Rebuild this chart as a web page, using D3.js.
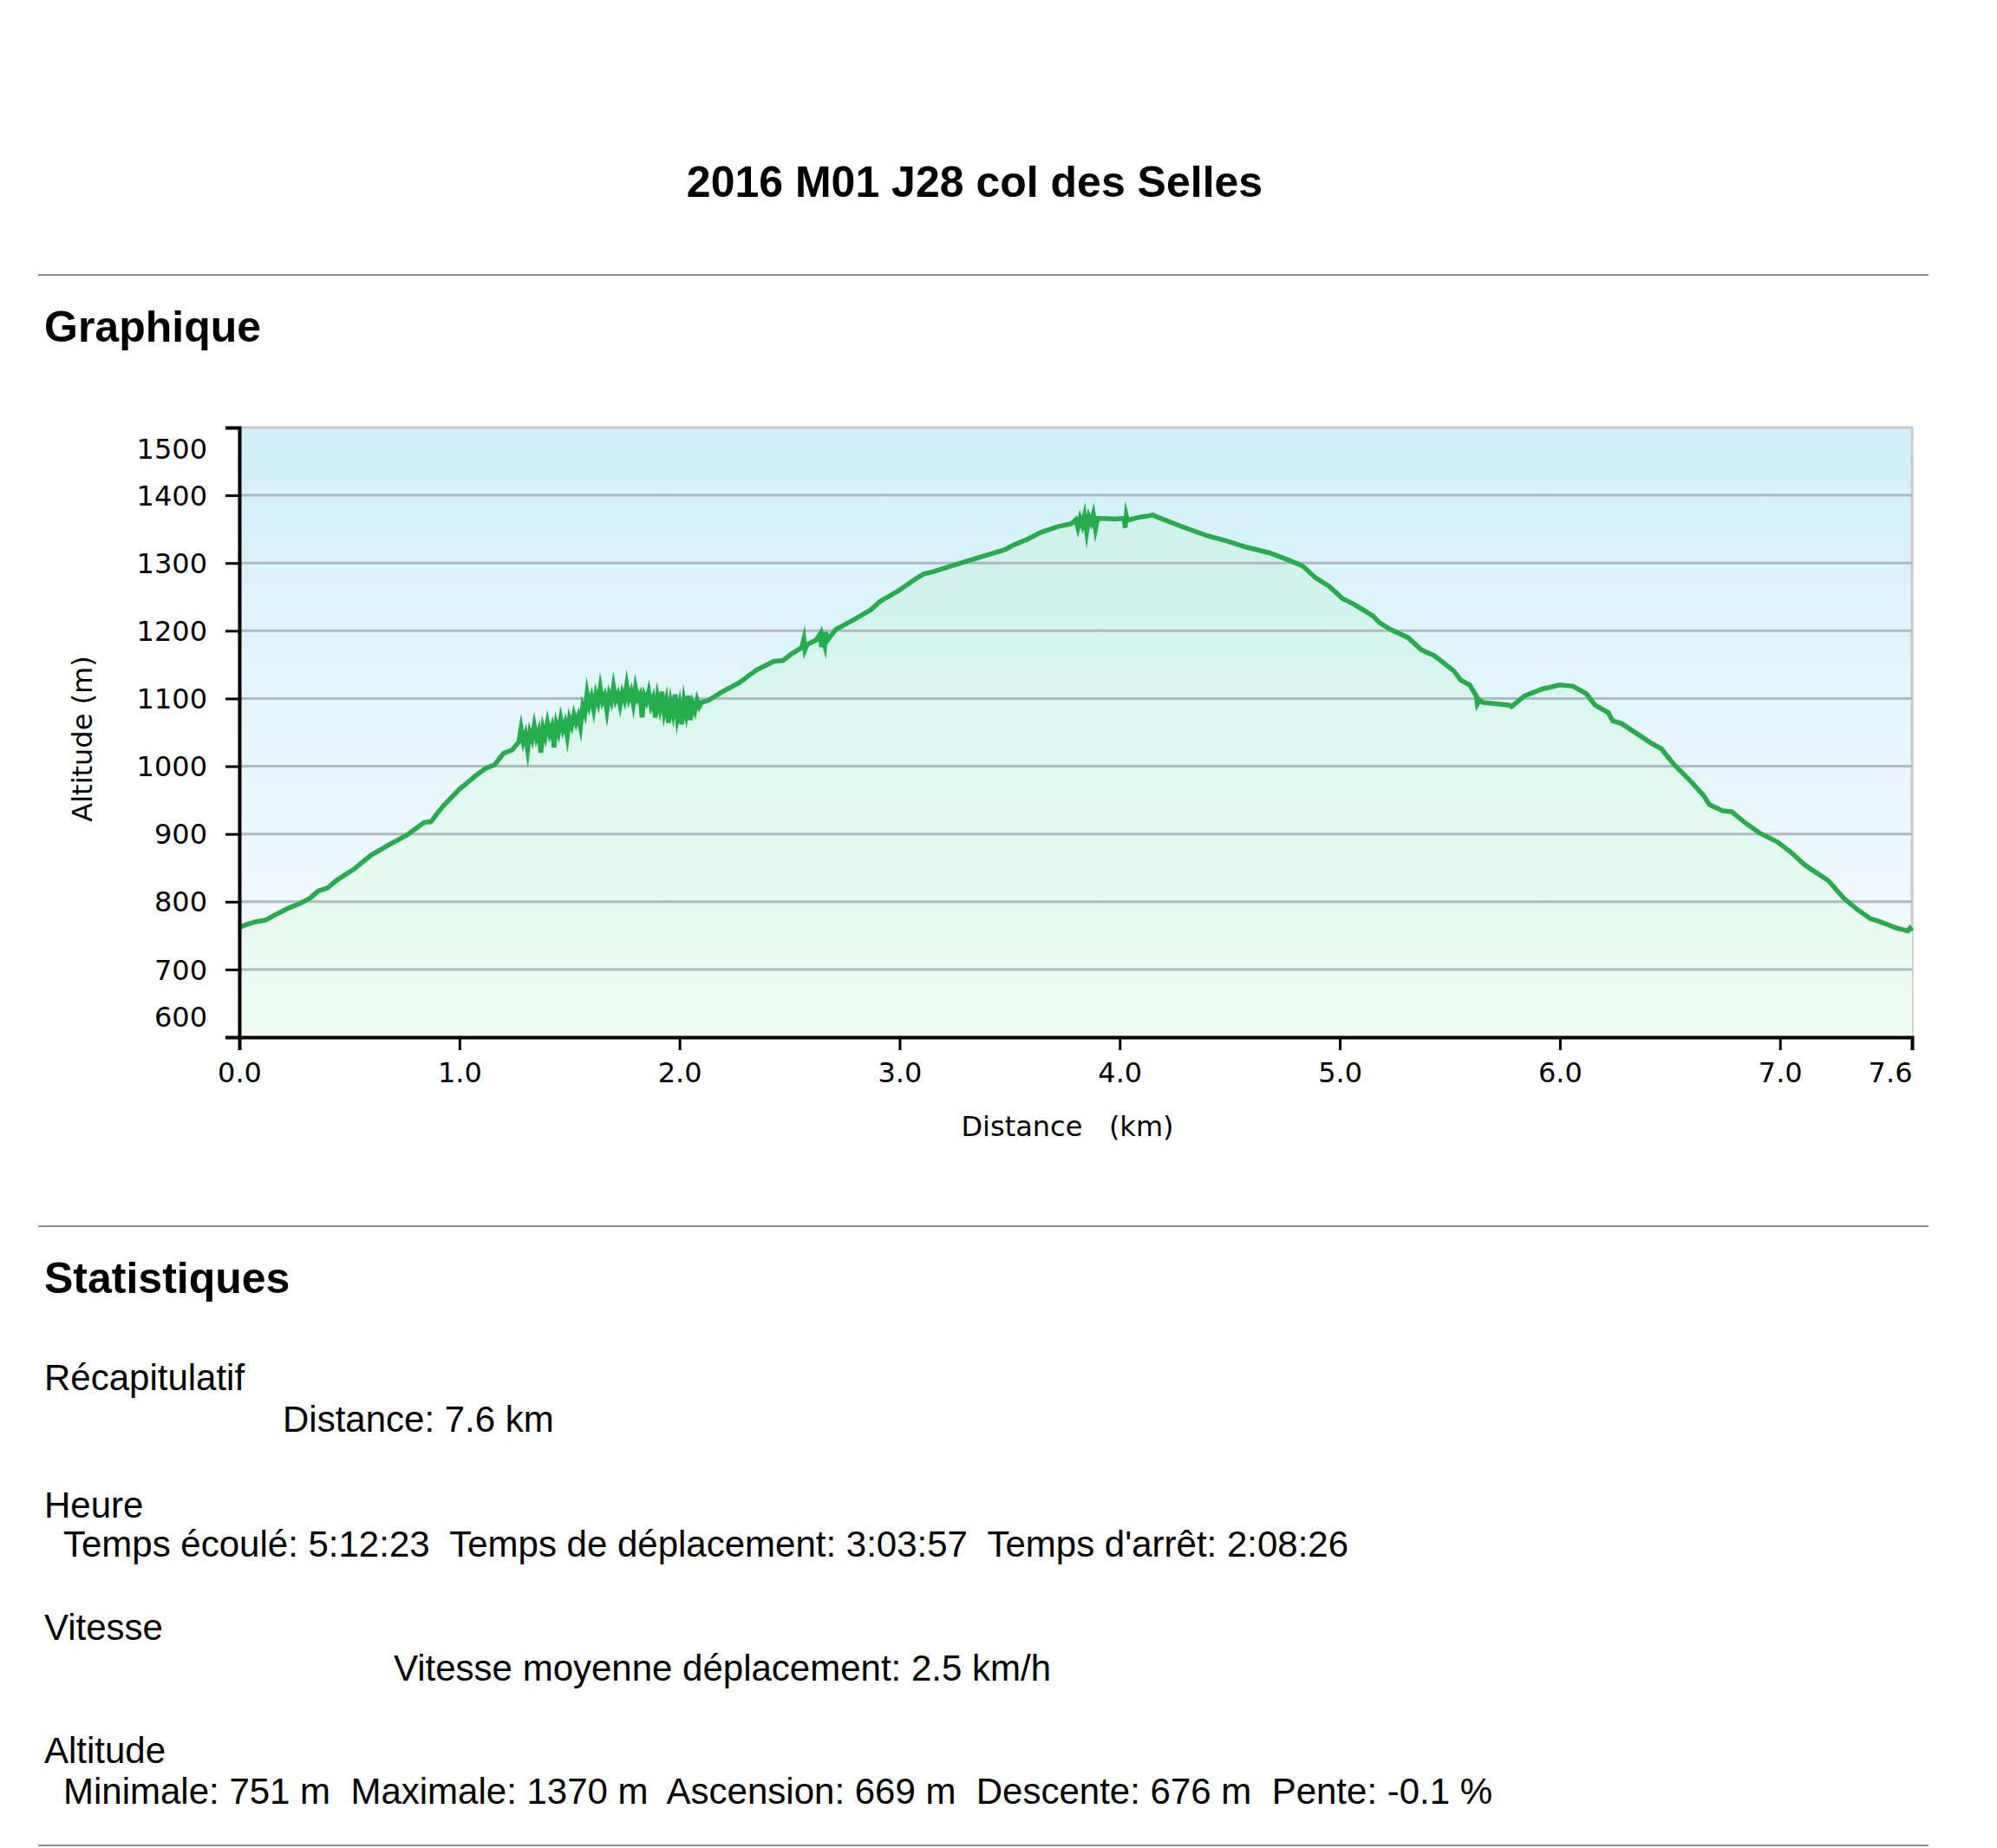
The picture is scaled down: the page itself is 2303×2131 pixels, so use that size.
<!DOCTYPE html>
<html><head><meta charset="utf-8">
<script src="https://cdn.jsdelivr.net/npm/d3@7/dist/d3.min.js"></script>
<style>
body{margin:0;background:#fff}
svg{display:block}
text{white-space:pre}
</style>
</head><body>
<svg id="c" width="2303" height="2131"></svg>
<script>
// ---------- data ----------
const pageTitle = "2016 M01 J28 col des Selles";
const sectionChart = "Graphique";
const sectionStats = "Statistiques";
const xAxisTitle = "Distance   (km)";
const yAxisTitle = "Altitude (m)";
const xTickValues = [0, 1, 2, 3, 4, 5, 6, 7, 7.6];
const yTickValues = [600, 700, 800, 900, 1000, 1100, 1200, 1300, 1400, 1500];
const gridValues = [700, 800, 900, 1000, 1100, 1200, 1300, 1400];

const distanceKm = [
 0.00,0.03,0.07,0.12,0.16,0.22,0.28,0.32,0.36,0.40,0.44,0.52,0.60,0.68,0.76,0.84,0.87,0.92,1.00,1.07,1.12,1.16,1.20,1.24,1.27,
 1.28,1.29,1.30,1.31,1.32,1.33,1.34,1.35,1.36,1.37,1.38,1.39,1.40,1.41,1.42,1.43,1.44,1.45,1.46,1.47,1.48,1.49,1.50,
 1.51,1.52,1.53,1.54,1.55,1.56,1.57,1.58,1.59,1.60,1.61,1.62,1.63,1.64,1.65,1.66,1.67,1.68,1.69,1.70,
 1.71,1.72,1.73,1.74,1.75,1.76,1.77,1.78,1.79,1.80,1.81,1.82,1.83,1.84,1.85,1.86,1.87,1.88,1.89,1.90,
 1.91,1.92,1.93,1.94,1.95,1.96,1.97,1.98,1.99,2.00,2.01,2.02,2.03,2.04,2.05,2.06,2.07,2.08,2.09,2.10,
 2.13,2.19,2.27,2.35,2.43,2.47,2.51,2.555,2.565,2.57,2.58,2.62,2.64,2.645,2.65,2.66,2.665,2.67,2.71,2.79,2.87,2.91,2.99,
 3.07,3.11,3.15,3.28,3.38,3.48,3.52,3.58,3.64,3.72,3.78,3.80,3.81,3.82,3.83,3.84,3.85,3.86,3.87,3.88,3.89,3.90,3.98,
 4.02,4.025,4.03,4.035,4.08,4.12,4.15,4.17,4.28,4.40,4.48,4.58,4.68,4.77,4.83,4.89,4.95,
 5.01,5.07,5.15,5.18,5.23,5.31,5.37,5.43,5.47,5.52,5.55,5.59,5.62,5.625,5.635,5.65,5.72,5.77,5.78,5.84,5.92,
 6.00,6.06,6.12,6.16,6.22,6.24,6.28,6.36,6.42,6.46,6.52,6.60,6.65,6.68,6.74,6.78,6.84,6.91,6.99,
 7.05,7.11,7.15,7.22,7.29,7.35,7.41,7.45,7.53,7.58,7.59,7.60
];
const altitudeM = [
 762,766,770,773,780,790,798,805,816,820,831,848,869,884,898,917,918,939,966,985,997,1002,1019,1024,1036,
 1056,1036,1047,1024,1050,1040,1060,1042,1052,1020,1056,1044,1064,1048,1058,1028,1062,1050,1070,1054,1064,1044,1070,
 1060,1076,1064,1074,1058,1088,1078,1108,1090,1102,1084,1106,1094,1116,1096,1104,1082,1106,1096,1118,
 1098,1106,1090,1108,1098,1120,1100,1110,1092,1116,1100,1106,1072,1104,1096,1110,1090,1100,1072,1102,
 1086,1110,1080,1096,1064,1094,1078,1106,1072,1090,1062,1096,1078,1104,1068,1092,1082,1098,1088,1094,
 1097,1109,1123,1142,1155,1156,1166,1175,1188,1172,1180,1186,1196,1176,1190,1178,1198,1185,1202,1216,1231,1243,1258,
 1276,1284,1287,1300,1310,1320,1327,1335,1345,1354,1358,1364,1352,1366,1356,1370,1346,1368,1360,1372,1350,1366,1365,
 1366,1352,1370,1363,1367,1369,1371,1368,1354,1340,1333,1323,1315,1304,1296,1278,1266,
 1248,1238,1222,1212,1202,1190,1172,1163,1153,1140,1127,1120,1104,1092,1098,1094,1092,1090,1088,1104,1114,
 1120,1118,1107,1090,1079,1067,1063,1046,1033,1026,1002,976,958,943,934,933,917,901,888,
 873,855,846,831,805,789,775,771,761,757,761,757
];

const statsLabels = ["Récapitulatif", "Heure", "Vitesse", "Altitude"];
const statsValues = [
 "Distance: 7.6 km",
 "Temps écoulé: 5:12:23  Temps de déplacement: 3:03:57  Temps d'arrêt: 2:08:26",
 "Vitesse moyenne déplacement: 2.5 km/h",
 "Minimale: 751 m  Maximale: 1370 m  Ascension: 669 m  Descente: 676 m  Pente: -0.1 %"
];

// ---------- layout ----------
const plot = {left: 276, right: 2205, top: 493, bottom: 1196};
const svg = d3.select("#c");
const heading = "'Liberation Sans', Arial, sans-serif";
const axisFont = "'DejaVu Sans', Verdana, sans-serif";

const points = distanceKm.map((d, i) => ({d, a: altitudeM[i]}));

const x = d3.scaleLinear().domain([0, 7.6]).range([plot.left, plot.right]);
const y = d3.scaleLinear().domain([600, 1500]).range([plot.bottom, plot.top]);

// header
svg.append("text").attr("x", 1124).attr("y", 227).attr("text-anchor", "middle")
  .attr("font-family", heading).attr("font-weight", "bold").attr("font-size", 50)
  .attr("fill", "#000").text(pageTitle);

const rule = yy => svg.append("line").attr("x1", 44).attr("x2", 2224).attr("y1", yy).attr("y2", yy)
  .attr("stroke", "#8c8c8c").attr("stroke-width", 2);
rule(317); rule(1414); rule(2128);

svg.append("text").attr("x", 51).attr("y", 394)
  .attr("font-family", heading).attr("font-weight", "bold").attr("font-size", 50).text(sectionChart);

// defs
const defs = svg.append("defs");
const bg = defs.append("linearGradient").attr("id", "bgGrad")
  .attr("gradientUnits", "userSpaceOnUse").attr("x1", 0).attr("x2", 0).attr("y1", plot.top).attr("y2", plot.bottom);
[[0, "#d1effa"], [0.45, "#e4f5fc"], [1, "#f6fbff"]].forEach(s => bg.append("stop").attr("offset", s[0]).attr("stop-color", s[1]));
const ag = defs.append("linearGradient").attr("id", "areaGrad")
  .attr("gradientUnits", "userSpaceOnUse").attr("x1", 0).attr("x2", 0).attr("y1", plot.top).attr("y2", plot.bottom);
[[0, "#ccefec"], [0.3, "#d5f3ee"], [0.6, "#e0f8f0"], [1, "#eefcf3"]].forEach(s => ag.append("stop").attr("offset", s[0]).attr("stop-color", s[1]));

// plot background
svg.append("rect").attr("x", plot.left).attr("y", plot.top)
  .attr("width", plot.right - plot.left).attr("height", plot.bottom - plot.top)
  .attr("fill", "url(#bgGrad)").attr("stroke", "#c9c9c9").attr("stroke-width", 3);

// area
const area = d3.area().x(p => x(p.d)).y0(y(600)).y1(p => y(p.a));
svg.append("path").datum(points).attr("d", area).attr("fill", "url(#areaGrad)");

// grid
svg.append("g").selectAll("line").data(gridValues).join("line")
  .attr("x1", plot.left).attr("x2", plot.right)
  .attr("y1", d => y(d)).attr("y2", d => y(d))
  .attr("stroke", "#a9b4bb").attr("stroke-width", 3).attr("opacity", 0.9);

// line
const line = d3.line().x(p => x(p.d)).y(p => y(p.a));
svg.append("path").datum(points).attr("d", line)
  .attr("fill", "none").attr("stroke", "#23ae4b").attr("stroke-width", 5.5)
  .attr("stroke-linejoin", "miter").attr("stroke-miterlimit", 8);

// axes
const yAxis = d3.axisLeft(y).tickValues(yTickValues).tickFormat(d3.format("d"))
  .tickSize(16).tickSizeOuter(16).tickPadding(21);
const gy = svg.append("g").attr("transform", `translate(${plot.left},0)`).call(yAxis);
gy.selectAll("text").attr("font-family", axisFont).attr("font-size", 32).attr("fill", "#000")
  .attr("dy", d => d === 1500 ? "1.1em" : d === 600 ? "-0.4em" : "0.35em");

const xAxis = d3.axisBottom(x).tickValues(xTickValues).tickFormat(d3.format(".1f"))
  .tickSize(15).tickSizeOuter(15).tickPadding(14);
const gx = svg.append("g").attr("transform", `translate(0,${plot.bottom})`).call(xAxis);
gx.selectAll("text").attr("font-family", axisFont).attr("font-size", 32).attr("fill", "#000")
  .attr("text-anchor", d => d === 7.6 ? "end" : "middle");

[gx, gy].forEach(g => {
  g.selectAll("path.domain").attr("stroke", "#000").attr("stroke-width", 4);
  g.selectAll(".tick line").attr("stroke", "#000").attr("stroke-width", 3);
});

svg.append("text").attr("x", 1231).attr("y", 1310).attr("text-anchor", "middle")
  .attr("font-family", axisFont).attr("font-size", 32).text(xAxisTitle);
svg.append("text").attr("transform", "translate(106,852) rotate(-90)").attr("text-anchor", "middle")
  .attr("font-family", axisFont).attr("font-size", 32).text(yAxisTitle);

// statistics
svg.append("text").attr("x", 51).attr("y", 1491)
  .attr("font-family", heading).attr("font-weight", "bold").attr("font-size", 50).text(sectionStats);

const labelY = [1603, 1750, 1891, 2033];
const valueY = [1651, 1795, 1938, 2080];
const valueX = [326, 73, 454, 73];
svg.append("g").selectAll("text").data(statsLabels).join("text")
  .attr("x", 51).attr("y", (d, i) => labelY[i])
  .attr("font-family", heading).attr("font-size", 42).text(d => d);
svg.append("g").selectAll("text").data(statsValues).join("text")
  .attr("x", (d, i) => valueX[i]).attr("y", (d, i) => valueY[i])
  .attr("font-family", heading).attr("font-size", 42).text(d => d);
</script>
</body></html>
